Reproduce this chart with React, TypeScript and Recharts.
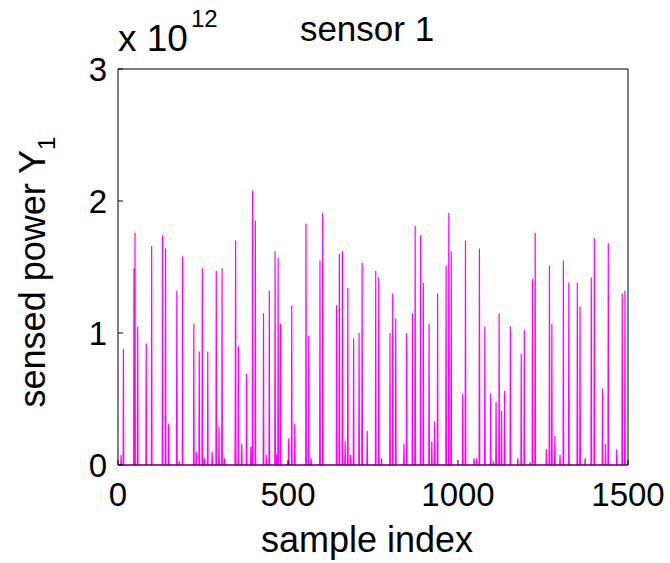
import { LineChart, Line, XAxis, YAxis, Label } from 'recharts';

// sensor 1 — sensed power, in units of 10^12
const SAMPLE_COUNT = 1500;
const spikeIndex = [
  9, 16, 47, 50, 58, 83, 99, 131, 140, 149, 173, 180, 190, 223, 230, 239, 248, 254, 264, 277,
  289, 297, 306, 313, 345, 346, 354, 364, 378, 391, 396, 404, 428, 436, 445, 462, 466, 471, 478, 502,
  511, 520, 553, 561, 568, 594, 602, 643, 651, 660, 668, 676, 684, 693, 709, 718, 733, 758, 767, 775,
  800, 808, 817, 841, 849, 866, 874, 890, 898, 915, 923, 931, 940, 965, 973, 980, 1014, 1022, 1047, 1055,
  1063, 1079, 1096, 1104, 1112, 1121, 1128, 1137, 1154, 1176, 1186, 1195, 1212, 1219, 1227, 1260, 1269, 1276, 1285, 1300,
  1310, 1326, 1351, 1359, 1374, 1392, 1401, 1425, 1434, 1442, 1467, 1483, 1491,
];
const spikeValue = [
  0.075, 0.88, 1.49, 1.76, 1.05, 0.92, 1.66, 1.74, 1.64, 0.31, 1.32, 0.03, 1.58, 1.07, 0.1, 0.86, 1.49, 0.05, 0.86, 0.1,
  1.47, 0.29, 1.49, 0.05, 0.62, 1.7, 0.9, 0.16, 0.69, 0.14, 2.08, 1.85, 1.15, 0.075, 1.32, 1.62, 0.08, 1.57, 1.07, 0.2,
  1.21, 0.31, 1.83, 0.98, 0.05, 1.55, 1.91, 1.21, 1.6, 1.62, 0.18, 1.34, 0.075, 0.96, 1.0, 1.53, 0.26, 1.47, 1.42, 0.05,
  1.0, 1.3, 1.11, 0.16, 1.0, 1.15, 1.81, 1.74, 1.38, 1.07, 0.18, 0.33, 1.3, 1.51, 1.91, 1.62, 0.54, 1.7, 0.05, 0.05,
  1.64, 1.05, 0.54, 0.03, 0.48, 1.15, 0.41, 0.56, 1.05, 0.05, 0.84, 1.02, 0.02, 1.41, 1.76, 0.12, 1.51, 1.07, 0.22, 0.075,
  1.55, 1.38, 1.38, 1.2, 0.05, 1.42, 1.72, 0.58, 0.16, 1.68, 0.12, 1.3, 1.32,
];
const xTicks = [0, 500, 1000, 1500];
const yTicks = [0, 1, 2, 3];

const data = Array.from({ length: SAMPLE_COUNT }, (_, i) => ({ idx: i + 1, power: 0 }));
spikeIndex.forEach((s, k) => {
  data[s - 1].power = spikeValue[k];
});

const FONT = '"Liberation Sans", Arial, Helvetica, sans-serif';
const MAGENTA = '#FF00FF';

const yLabel = () => (
  <text
    transform="translate(45, 272) rotate(-90)"
    textAnchor="middle"
    fontFamily={FONT}
    fontSize={36}
    fill="#000"
  >
    sensed power Y
    <tspan fontSize={24} dy={10}>1</tspan>
  </text>
);

const topTexts = () => (
  <g fontFamily={FONT} fill="#000">
    <text x={118} y={51} fontSize={37}>x 10</text>
    <text x={191} y={27} fontSize={24}>12</text>
    <text x={367} y={41} fontSize={35} textAnchor="middle">sensor 1</text>
  </g>
);

export default function App() {
  return (
    <div style={{ position: 'absolute', left: 0, top: 0, background: '#fff' }}>
      <LineChart
        width={670}
        height={563}
        data={data}
        margin={{ top: 68, right: 41, bottom: 0, left: 0 }}
      >
        <XAxis
          dataKey="idx"
          type="number"
          domain={[0, 1500]}
          ticks={xTicks}
          height={98}
          tickSize={-5}
          tickMargin={23}
          stroke="#000"
          tick={{ fill: '#000', fontSize: 33, fontFamily: FONT }}
        >
          <Label
            value="sample index"
            position="insideBottom"
            offset={11}
            dx={-6}
            style={{ fill: '#000', fontSize: 36, fontFamily: FONT }}
          />
        </XAxis>
        <XAxis
          xAxisId="top"
          orientation="top"
          type="number"
          domain={[0, 1500]}
          ticks={xTicks}
          height={1}
          tickSize={-5}
          tick={false}
          stroke="#000"
        >
          <Label content={topTexts} />
        </XAxis>
        <YAxis
          type="number"
          domain={[0, 3]}
          ticks={yTicks}
          width={118}
          tickSize={-5}
          tickMargin={16}
          stroke="#000"
          tick={{ fill: '#000', fontSize: 33, fontFamily: FONT }}
        >
          <Label content={yLabel} />
        </YAxis>
        <YAxis
          yAxisId="right"
          orientation="right"
          type="number"
          domain={[0, 3]}
          ticks={yTicks}
          width={1}
          tickSize={-5}
          tick={false}
          stroke="#000"
        />
        <Line
          type="linear"
          dataKey="power"
          stroke={MAGENTA}
          strokeWidth={1.2}
          dot={false}
          activeDot={false}
          isAnimationActive={false}
        />
      </LineChart>
    </div>
  );
}
